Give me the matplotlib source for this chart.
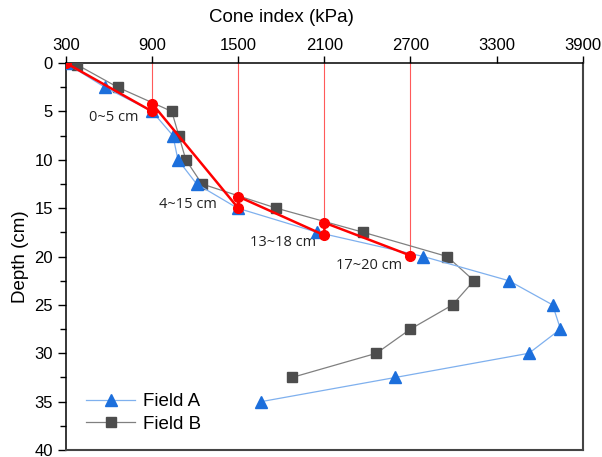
import matplotlib
matplotlib.use("Agg")
import matplotlib.pyplot as plt
from matplotlib.ticker import MultipleLocator

plt.rcParams["font.family"] = ["Liberation Sans", "DejaVu Sans"]

# === data ===
depth_a = [0, 2.5, 5, 7.5, 10, 12.5, 15, 17.5, 20, 22.5, 25, 27.5, 30, 32.5, 35]
cone_a = [300, 570, 900, 1045, 1080, 1210, 1495, 2050, 2790, 3385, 3690, 3745, 3525, 2595, 1660]

depth_b = [0.2, 2.5, 5, 7.5, 10, 12.5, 15, 17.5, 20, 22.5, 25, 27.5, 30, 32.5]
cone_b = [380, 660, 1037, 1086, 1135, 1247, 1765, 2372, 2956, 3142, 2993, 2700, 2463, 1875]

# red fitted segments (zig-zag through layer boundaries)
seg_cone = [300, 900, 900, 1500, 1500, 2100, 2100, 2700]
seg_depth = [0, 5, 4.2, 15, 13.8, 17.8, 16.5, 19.9]

# vertical guides at each layer's cone index, down to upper point
guide_cone = [900, 1500, 2100, 2700]
guide_depth = [4.2, 13.8, 16.5, 19.9]

layer_labels = ["0~5 cm", "4~15 cm", "13~18 cm", "17~20 cm"]
label_cone = [630, 1151, 1811, 2414]
label_depth = [5.6, 14.6, 18.6, 20.9]

x_ticks = [300, 900, 1500, 2100, 2700, 3300, 3900]

fig = plt.figure(figsize=(6.02, 4.57), dpi=100)
ax = fig.add_axes([0.1096, 0.0153, 0.8584, 0.8468])

for c, d in zip(guide_cone, guide_depth):
    ax.plot([c, c], [0, d], color="#ff5a5a", lw=0.8, zorder=2)

ax.plot(cone_b, depth_b, color="#808080", lw=0.9, marker="s", ms=6.5,
        mfc="#4d4d4d", mec="#4d4d4d", label="Field B", zorder=3)
ax.plot(cone_a, depth_a, color="#7fb0ee", lw=0.9, marker="^", ms=8.5,
        mfc="#1c6fdc", mec="#1c6fdc", label="Field A", zorder=4)
ax.plot(seg_cone, seg_depth, color="#ff0000", lw=1.8, marker="o", ms=7,
        mfc="#ff0000", mec="#ff0000", zorder=5)

for t, c, d in zip(layer_labels, label_cone, label_depth):
    ax.text(c, d, t, ha="center", va="center", fontsize=10.5,
            family=["Open Sans", "DejaVu Sans"], color="#222222")

ax.set_xlim(300, 3900)
ax.set_ylim(40, 0)
ax.xaxis.tick_top()
ax.xaxis.set_label_position("top")
ax.set_xticks(x_ticks)
ax.yaxis.set_major_locator(MultipleLocator(5))
ax.yaxis.set_minor_locator(MultipleLocator(2.5))
ax.tick_params(axis="x", which="major", direction="out", length=5, width=1, labelsize=12, pad=2)
ax.tick_params(axis="y", which="major", direction="out", length=6, width=1, labelsize=12)
ax.tick_params(axis="y", which="minor", direction="out", length=4, width=1)
ax.set_xlabel("Cone index (kPa)", fontsize=13.5, labelpad=8)
ax.xaxis.set_label_coords(0.417, 1.105)
ax.set_ylabel("Depth (cm)", fontsize=13.5, labelpad=4)

for s in ["left", "top"]:
    ax.spines[s].set_linewidth(1.1)
    ax.spines[s].set_color("black")
for s in ["right", "bottom"]:
    ax.spines[s].set_linewidth(1.5)
    ax.spines[s].set_color("#444444")

handles, labels = ax.get_legend_handles_labels()
ax.legend(handles[::-1], labels[::-1], loc="lower left", frameon=False,
          fontsize=13.5, numpoints=1, handlelength=2.6, handletextpad=0.4,
          labelspacing=0.3, borderaxespad=0, bbox_to_anchor=(0.025, 0.025))

fig.savefig("out.png", dpi=100)
